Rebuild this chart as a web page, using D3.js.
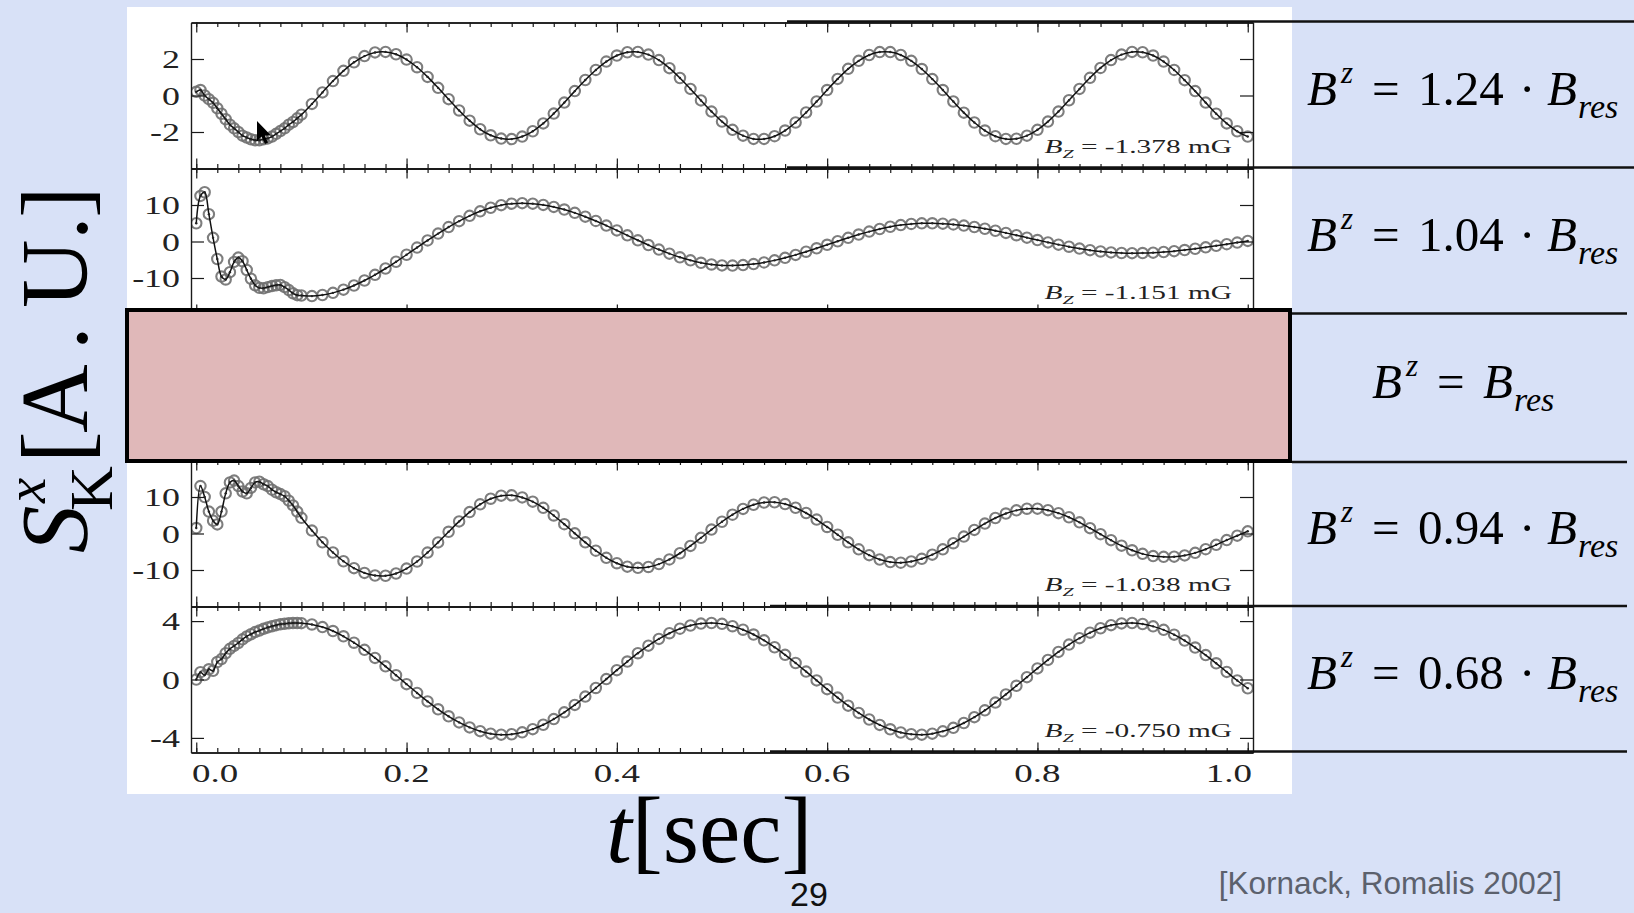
<!DOCTYPE html>
<html><head><meta charset="utf-8">
<script src="https://cdn.jsdelivr.net/npm/d3@7"></script>
<style>html,body{margin:0;padding:0;background:#d8e1f7;overflow:hidden}svg{display:block}</style>
</head><body><svg id="c" width="1634" height="913"></svg>
<script>
// ---- data ----
const times = [0,0.004,0.008,0.012,0.016,0.02,0.024,0.028,0.032,0.036,0.04,0.044,0.048,0.052,0.056,0.06,0.064,0.068,0.072,0.076,0.08,0.084,0.088,0.092,0.096,
0.10,0.11,0.12,0.13,0.14,0.15,0.16,0.17,0.18,0.19,0.20,0.21,0.22,0.23,0.24,0.25,0.26,0.27,0.28,0.29,
0.30,0.31,0.32,0.33,0.34,0.35,0.36,0.37,0.38,0.39,0.40,0.41,0.42,0.43,0.44,0.45,0.46,0.47,0.48,0.49,
0.50,0.51,0.52,0.53,0.54,0.55,0.56,0.57,0.58,0.59,0.60,0.61,0.62,0.63,0.64,0.65,0.66,0.67,0.68,0.69,
0.70,0.71,0.72,0.73,0.74,0.75,0.76,0.77,0.78,0.79,0.80,0.81,0.82,0.83,0.84,0.85,0.86,0.87,0.88,0.89,
0.90,0.91,0.92,0.93,0.94,0.95,0.96,0.97,0.98,0.99,1.00];

const panel1 = [0.2,0.3,0.0,-0.2,-0.4,-0.7,-1.0,-1.3,-1.6,-1.8,-2.0,-2.2,-2.3,-2.4,-2.45,-2.45,-2.4,-2.35,-2.25,-2.1,-1.95,-1.8,-1.6,-1.45,-1.25,
-1.05,-0.46,0.17,0.79,1.35,1.82,2.16,2.36,2.39,2.26,
1.97,1.55,1.02,0.42,-0.20,-0.82,-1.38,-1.85,-2.18,-2.36,
-2.39,-2.25,-1.96,-1.53,-0.99,-0.39,0.24,0.85,1.40,1.86,
2.19,2.37,2.39,2.24,1.94,1.50,0.96,0.36,-0.27,-0.88,
-1.43,-1.88,-2.20,-2.38,-2.38,-2.23,-1.92,-1.48,-0.93,-0.33,
0.30,0.91,1.46,1.90,2.22,2.38,2.38,2.22,1.90,1.45,
0.90,0.30,-0.33,-0.94,-1.48,-1.92,-2.23,-2.38,-2.37,-2.20,
-1.88,-1.43,-0.88,-0.26,0.36,0.97,1.51,1.94,2.24,2.39,
2.37,2.19,1.86,1.40,0.84,0.24,-0.39,-1.00,-1.53,-1.96,-2.25];

const panel2 = [5.0,12.5,13.5,7.5,1.0,-4.8,-9.6,-10.4,-8.4,-5.6,-4.4,-5.4,-7.8,-10.2,-12.0,-12.7,-12.8,-12.5,-12.2,-12.0,-11.9,-12.5,-13.3,-14.2,-14.7,
-14.8,-14.96,-14.66,-14.07,-13.19,-12.05,-10.69,-9.13,-7.40,-5.55,
-3.63,-1.66,0.29,2.17,3.96,5.58,7.03,8.27,9.25,9.96,
10.37,10.50,10.37,10.03,9.48,8.76,7.85,6.80,5.63,4.36,
3.04,1.68,0.33,-0.97,-2.21,-3.33,-4.33,-5.16,-5.83,-6.29,
-6.55,-6.59,-6.47,-6.18,-5.74,-5.17,-4.47,-3.67,-2.80,-1.86,
-0.90,0.07,1.01,1.91,2.71,3.43,4.04,4.49,4.81,4.98,
4.99,4.88,4.67,4.36,3.97,3.50,2.95,2.36,1.72,1.06,
0.40,-0.24,-0.86,-1.43,-1.94,-2.38,-2.73,-2.99,-3.15,-3.20,
-3.16,-3.06,-2.88,-2.64,-2.34,-1.99,-1.60,-1.18,-0.74,-0.29,0.16];

const panel4 = [1.5,13.0,10.0,6.0,3.5,2.5,6.0,11.0,14.0,14.5,13.0,11.5,11.0,12.5,14.0,14.2,13.5,13.0,12.0,11.3,10.8,10.2,9.0,7.7,6.0,
4.3,0.8,-2.4,-5.2,-7.6,-9.5,-10.8,-11.5,-11.57,-10.96,
-9.62,-7.67,-5.22,-2.44,0.47,3.31,5.87,8.00,9.53,10.37,
10.45,9.88,8.72,7.04,4.94,2.55,0.04,-2.43,-4.71,-6.66,
-8.14,-9.08,-9.40,-9.17,-8.39,-7.11,-5.41,-3.40,-1.19,1.07,
3.22,5.15,6.74,7.88,8.50,8.56,8.07,7.06,5.61,3.82,
1.79,-0.34,-2.43,-4.33,-5.93,-7.12,-7.83,-8.00,-7.67,-6.93,
-5.79,-4.34,-2.66,-0.85,0.98,2.71,4.24,5.47,6.34,6.79,
6.80,6.39,5.58,4.45,3.05,1.46,-0.19,-1.82,-3.33,-4.60,
-5.58,-6.19,-6.40,-6.35,-6.00,-5.30,-4.30,-3.10,-1.80,-0.60,0.60];

const panel5 = [0.0,0.5,0.3,0.7,0.6,1.2,1.4,1.8,2.1,2.3,2.5,2.75,2.95,3.1,3.25,3.35,3.47,3.57,3.65,3.72,3.78,3.82,3.85,3.87,3.87,
3.86,3.77,3.59,3.32,2.96,2.52,2.03,1.48,0.90,0.29,
-0.32,-0.92,-1.50,-2.04,-2.52,-2.94,-3.28,-3.54,-3.71,-3.78,
-3.75,-3.62,-3.40,-3.10,-2.71,-2.25,-1.74,-1.17,-0.58,0.03,
0.64,1.23,1.80,2.32,2.78,3.17,3.48,3.70,3.83,3.87,
3.81,3.65,3.41,3.08,2.68,2.21,1.69,1.13,0.54,-0.06,
-0.66,-1.24,-1.79,-2.29,-2.74,-3.11,-3.41,-3.63,-3.75,-3.78,
-3.71,-3.55,-3.31,-2.98,-2.58,-2.11,-1.58,-1.02,-0.43,0.16,
0.76,1.34,1.89,2.39,2.83,3.21,3.51,3.72,3.84,3.87,
3.80,3.64,3.40,3.07,2.67,2.19,1.67,1.11,0.52,-0.07,-0.60];

const panelDomains = [[-4,4],[-20,20],[-20,20],[-20,20],[-5,5]];
const yTicks = [[-2,0,2],[-10,0,10],[-10,0,10],[-10,0,10],[-4,0,4]];
const yTickLabels = [["-2","0","2"],["-10","0","10"],["-10","0","10"],["-10","0","10"],["-4","0","4"]];
const xMajorTicks = [0,0.2,0.4,0.6,0.8,1.0];
const xTickLabels = ["0.0","0.2","0.4","0.6","0.8","1.0"];
const fieldLabels = ["-1.378","-1.151",null,"-1.038","-0.750"];
const ratioLabels = ["1.24","1.04",null,"0.94","0.68"];
const citation = "[Kornack, Romalis 2002]";
const slideNo = "29";

// ---- drawing ----
const W=1634,H=913;
const svg=d3.select("#c");
const serif='"Liberation Serif","Times New Roman",serif';
const sans='"Liberation Sans",Arial,sans-serif';
svg.append("rect").attr("width",W).attr("height",H).attr("fill","#d8e1f7");
svg.append("rect").attr("x",127).attr("y",7).attr("width",1165).attr("height",787).attr("fill","#ffffff");

const plotL=191, plotR=1253, plotT=22.5, panelH=146;
const x=d3.scaleLinear().domain([-0.005,1.005]).range([plotL,plotR]);
const minor=x.ticks(50);
const series=[panel1,panel2,null,panel4,panel5];
const ink="#1a1a1a";
const axStyle=sel=>{sel.select(".domain").attr("stroke",ink).attr("stroke-width",1.4);
  sel.selectAll(".tick line").attr("stroke",ink).attr("stroke-width",1.2);
  sel.selectAll(".tick text").remove();};

series.forEach((vals,i)=>{
  const top=plotT+i*panelH, bot=top+panelH;
  const y=d3.scaleLinear().domain(panelDomains[i]).range([bot,top]);
  const g=svg.append("g");
  if(vals){
    const pts=times.map((t,k)=>[t,vals[k]]);
    const cid="clip"+i;
    svg.append("clipPath").attr("id",cid).append("rect")
      .attr("x",plotL).attr("y",top).attr("width",plotR-plotL).attr("height",panelH);
    const dg=g.append("g").attr("clip-path",`url(#${cid})`);
    dg.selectAll("circle.ring").data(pts).join("circle").attr("class","ring")
      .attr("cx",d=>x(d[0])).attr("cy",d=>y(d[1])).attr("r",5.2)
      .attr("fill","none").attr("stroke","#707070").attr("stroke-width",2.1).attr("stroke-opacity",0.9);
    dg.append("path").datum(pts)
      .attr("d",d3.line().x(d=>x(d[0])).y(d=>y(d[1])).curve(d3.curveCatmullRom))
      .attr("fill","none").attr("stroke","#111").attr("stroke-width",1.5);
    dg.selectAll("circle.dot").data(pts).join("circle").attr("class","dot")
      .attr("cx",d=>x(d[0])).attr("cy",d=>y(d[1])).attr("r",1.2).attr("fill","#222");
  }
  // axes
  g.append("g").attr("transform",`translate(0,${top})`)
    .call(d3.axisTop(x).tickValues(minor).tickSize(-4.5).tickSizeOuter(0).tickFormat("")).call(axStyle);
  g.append("g").attr("transform",`translate(0,${top})`)
    .call(d3.axisTop(x).tickValues(xMajorTicks).tickSize(-10).tickSizeOuter(0).tickFormat("")).call(axStyle);
  g.append("g").attr("transform",`translate(0,${bot})`)
    .call(d3.axisBottom(x).tickValues(minor).tickSize(-4.5).tickSizeOuter(0).tickFormat("")).call(axStyle);
  g.append("g").attr("transform",`translate(0,${bot})`)
    .call(d3.axisBottom(x).tickValues(xMajorTicks).tickSize(-10).tickSizeOuter(0).tickFormat("")).call(axStyle);
  g.append("g").attr("transform",`translate(${plotL},0)`)
    .call(d3.axisLeft(y).tickValues(yTicks[i]).tickSize(-13).tickSizeOuter(0).tickFormat("")).call(axStyle);
  g.append("g").attr("transform",`translate(${plotR},0)`)
    .call(d3.axisRight(y).tickValues(yTicks[i]).tickSize(-13).tickSizeOuter(0).tickFormat("")).call(axStyle);
  // y tick labels
  yTicks[i].forEach((v,k)=>{
    svg.append("text").attr("transform",`translate(180,${y(v)+9}) scale(1.38,1)`)
      .attr("text-anchor","end").attr("font-family",serif).attr("font-size",26).attr("fill","#222")
      .text(yTickLabels[i][k]);
  });
  // field label
  if(fieldLabels[i]){
    const t=svg.append("text").attr("font-family",serif).attr("font-size",19).attr("text-anchor","end").attr("fill","#222");
    t.append("tspan").attr("font-style","italic").text("B");
    t.append("tspan").attr("font-style","italic").attr("font-size",13).attr("dy",5).text("Z");
    t.append("tspan").attr("dy",-5).text(" = "+fieldLabels[i]+" mG");
    const w=t.node().getBBox().width||120;
    t.attr("transform",`translate(1232,${bot-15.5}) scale(${188/w},1)`);
  }
});

// x tick labels
xMajorTicks.forEach((v,k)=>{
  const last=xMajorTicks.length-1;
  const anchor=k===0?"start":(k===last?"end":"middle");
  const px=k===0?plotL+1:(k===last?plotR-1:x(v));
  svg.append("text").attr("transform",`translate(${px},782) scale(1.42,1)`)
    .attr("text-anchor",anchor).attr("font-family",serif).attr("font-size",26).attr("fill","#222")
    .text(xTickLabels[k]);
});

// table lines on the right
const tableLines=[[21.5,787,1634],[167.5,787,1634],[313.5,1292,1627],[462,1292,1627],[606,770,1627],[751.5,770,1627]];
tableLines.forEach(([ly,x1,x2])=>{
  svg.append("line").attr("x1",x1).attr("x2",x2).attr("y1",ly).attr("y2",ly)
    .attr("stroke","#111").attr("stroke-width",2.6);
});

// pink cover box
svg.append("rect").attr("x",127).attr("y",310).attr("width",1163).attr("height",151)
  .attr("fill","#e0b8b9").attr("stroke","#000").attr("stroke-width",4);

// formulas
const rowBase=[105,251,398,544,689];
function formula(x0,yb,num){
  const g=svg.append("g").attr("transform",`translate(${x0},${yb})`).attr("font-family",serif).attr("fill","#000");
  g.append("text").attr("x",0).attr("font-size",49).attr("font-style","italic").text("B");
  g.append("text").attr("x",34).attr("y",-22).attr("font-size",31).attr("font-style","italic").text("z");
  g.append("text").attr("x",65).attr("font-size",49).text("=");
  let xb=111;
  if(num){
    g.append("text").attr("x",111).attr("font-size",49).text(num);
    g.append("text").attr("x",212).attr("font-size",49).text("·");
    xb=240;
  }
  g.append("text").attr("x",xb).attr("font-size",49).attr("font-style","italic").text("B");
  g.append("text").attr("x",xb+31).attr("y",13).attr("font-size",34).attr("font-style","italic").text("res");
}
ratioLabels.forEach((r,i)=>{ formula(r?1307:1372,rowBase[i],r); });

// y-axis title
const yt=svg.append("g").attr("transform","translate(87,553) rotate(-90)").attr("font-family",serif).attr("fill","#000");
yt.append("text").attr("x",0).attr("font-size",95).attr("font-style","italic").text("S");
yt.append("text").attr("x",50).attr("y",-42).attr("font-size",57).attr("font-style","italic").text("x");
yt.append("text").attr("x",42).attr("y",25).attr("font-size",62).text("K");
[["[",90],["A",120],[".",203],["U",245],[".",313],["]",335]].forEach(([s,px])=>{
  yt.append("text").attr("x",px).attr("font-size",95).text(s);
});

// x-axis title
const xt=svg.append("text").attr("x",606).attr("y",862).attr("font-family",serif).attr("font-size",93).attr("fill","#000");
xt.append("tspan").attr("font-style","italic").text("t");
xt.append("tspan").text("[sec]");

svg.append("text").attr("x",790).attr("y",906).attr("font-family",sans).attr("font-size",34).attr("fill","#111").text(slideNo);
svg.append("text").attr("x",1562).attr("y",894).attr("text-anchor","end").attr("font-family",sans).attr("font-size",31.5).attr("fill","#5c616d").text(citation);

// mouse cursor visible in the screenshot
svg.append("path").attr("transform","translate(257,121)")
  .attr("d","M0,0 L0,20 L4.6,15.6 L8,23 L11,21.6 L7.8,14.4 L14,14.4 Z").attr("fill","#000");
</script></body></html>
